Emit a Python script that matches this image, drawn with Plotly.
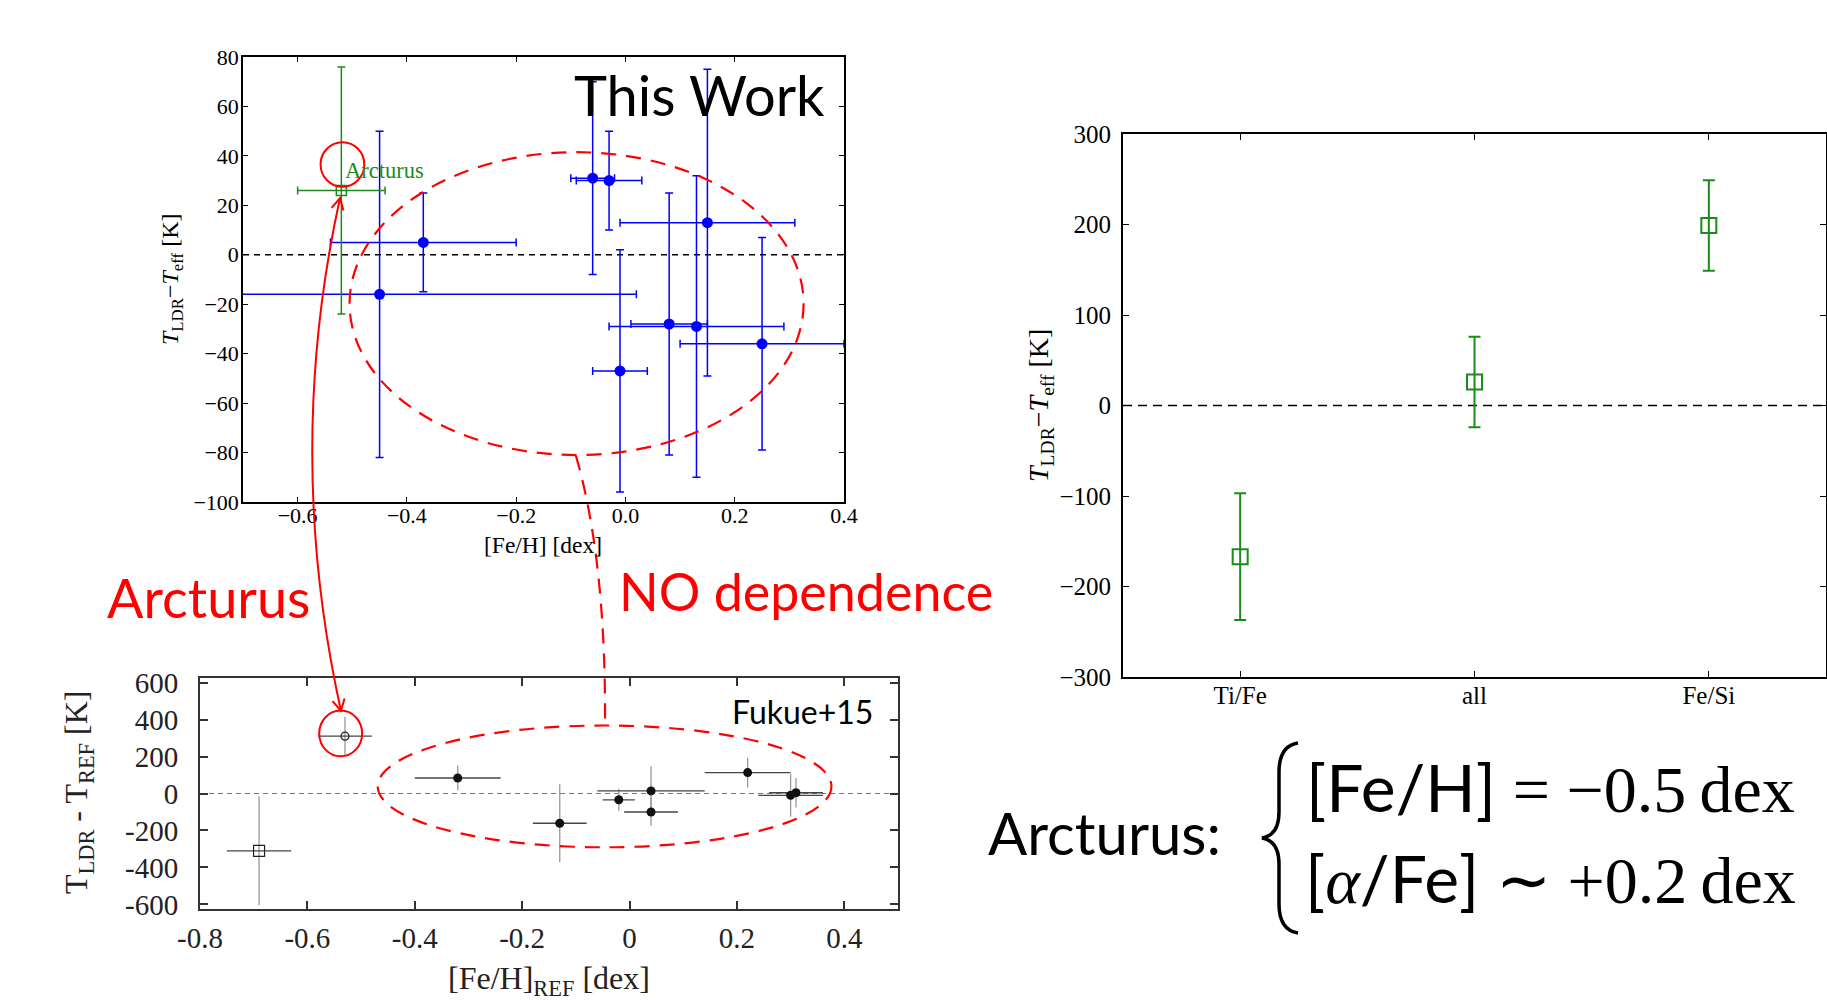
import numpy as np
import plotly.graph_objects as go

W, H = 1827, 1000

# ---------------- data: "This Work" panel (top-left) ----------------
tw_feh = [-0.45, -0.37, -0.06, -0.03, 0.15, -0.01, 0.08, 0.13, 0.25]
tw_feh_err = [0.47, 0.17, 0.04, 0.06, 0.16, 0.05, 0.07, 0.16, 0.15]
tw_dT = [-16, 5, 31, 30, 13, -47, -28, -29, -36]
tw_dT_err = [66, 20, 39, 20, 62, 49, 53, 61, 43]
arc_tw_feh = [-0.52]
arc_tw_feh_err = [0.08]
arc_tw_dT = [26]
arc_tw_dT_err = [50]
tw_xticks = [-0.6, -0.4, -0.2, 0.0, 0.2, 0.4]
tw_xticktext = ["\u22120.6", "\u22120.4", "\u22120.2", "0.0", "0.2", "0.4"]
tw_yticks = [-100, -80, -60, -40, -20, 0, 20, 40, 60, 80]

# ---------------- data: line-pair groups (right) ----------------
grp_labels = ["Ti/Fe", "all", "Fe/Si"]
grp_dT = [-167, 26, 199]
grp_dT_err = [70, 50, 50]
grp_yticks = [-300, -200, -100, 0, 100, 200, 300]

# ---------------- data: Fukue+15 panel (bottom-left) ----------------
fk_feh = [-0.32, -0.13, -0.02, 0.04, 0.04, 0.22, 0.30, 0.31]
fk_feh_err = [0.08, 0.05, 0.03, 0.10, 0.05, 0.08, 0.06, 0.05]
fk_dT = [84, -161, -34, 14, -100, 113, -10, 4]
fk_dT_err = [68, 211, 60, 134, 75, 80, 115, 80]
fk_arc_feh = [-0.53]
fk_arc_feh_err = [0.05]
fk_arc_dT = [310]
fk_arc_dT_err = [105]
fk_sq_feh = [-0.69]
fk_sq_feh_err = [0.06]
fk_sq_dT = [-310]
fk_sq_dT_err = [295]
fk_xticks = [-0.8, -0.6, -0.4, -0.2, 0.0, 0.2, 0.4]
fk_xticktext = ["-0.8", "-0.6", "-0.4", "-0.2", "0", "0.2", "0.4"]
fk_yticks = [-600, -400, -200, 0, 200, 400, 600]
fk_yticktext = ["-600", "-400", "-200", "0", "200", "400", "600"]

SERIF = "Liberation Serif, Times New Roman, serif"
SANS = "Lato, Noto Sans, sans-serif"
BLUE = "#0000ff"
GREEN = "#1a8c1a"
RED = "#ff0000"


def px(x, y):
    """page pixel -> paper coordinate"""
    return x / W, 1 - y / H


def dom_x(left, right):
    return [left / W, min(right / W, 1.0)]


def dom_y(top, bottom):
    return [1 - bottom / H, 1 - top / H]


fig = go.Figure()

# top-left panel
fig.add_trace(go.Scatter(
    x=tw_feh, y=tw_dT, mode="markers", xaxis="x", yaxis="y",
    marker=dict(color=BLUE, size=11, symbol="circle"),
    error_x=dict(type="data", array=tw_feh_err, color=BLUE, thickness=1.5, width=4),
    error_y=dict(type="data", array=tw_dT_err, color=BLUE, thickness=1.5, width=4),
    showlegend=False))
fig.add_trace(go.Scatter(
    x=arc_tw_feh, y=arc_tw_dT, mode="markers", xaxis="x", yaxis="y",
    marker=dict(color=GREEN, size=10, symbol="square-open", line=dict(width=1.5, color=GREEN)),
    error_x=dict(type="data", array=arc_tw_feh_err, color=GREEN, thickness=1.5, width=4),
    error_y=dict(type="data", array=arc_tw_dT_err, color=GREEN, thickness=1.5, width=4),
    showlegend=False))

# right panel
fig.add_trace(go.Scatter(
    x=grp_labels, y=grp_dT, mode="markers", xaxis="x3", yaxis="y3",
    marker=dict(color=GREEN, size=15, symbol="square-open", line=dict(width=2, color=GREEN)),
    error_y=dict(type="data", array=grp_dT_err, color=GREEN, thickness=2, width=6),
    showlegend=False))

# bottom-left panel
fig.add_trace(go.Scatter(
    x=fk_feh, y=fk_dT, mode="markers", xaxis="x2", yaxis="y2",
    marker=dict(color="#111111", size=9, symbol="circle"),
    error_x=dict(type="data", array=fk_feh_err, color="#444444", thickness=1.3, width=0),
    error_y=dict(type="data", array=fk_dT_err, color="#999999", thickness=1.3, width=0),
    showlegend=False))
fig.add_trace(go.Scatter(
    x=fk_arc_feh, y=fk_arc_dT, mode="markers", xaxis="x2", yaxis="y2",
    marker=dict(color="#222222", size=8, symbol="circle-open", line=dict(width=1.2, color="#222222")),
    error_x=dict(type="data", array=fk_arc_feh_err, color="#444444", thickness=1.3, width=0),
    error_y=dict(type="data", array=fk_arc_dT_err, color="#999999", thickness=1.3, width=0),
    showlegend=False))
fig.add_trace(go.Scatter(
    x=fk_sq_feh, y=fk_sq_dT, mode="markers", xaxis="x2", yaxis="y2",
    marker=dict(color="#222222", size=11, symbol="square-open", line=dict(width=1.2, color="#222222")),
    error_x=dict(type="data", array=fk_sq_feh_err, color="#444444", thickness=1.3, width=0),
    error_y=dict(type="data", array=fk_sq_dT_err, color="#999999", thickness=1.3, width=0),
    showlegend=False))

shapes = []
# zero lines
shapes.append(dict(type="line", xref="x domain", yref="y", x0=0, x1=1, y0=0, y1=0,
                   line=dict(color="black", width=1.5, dash="6px,5px"), layer="below"))
shapes.append(dict(type="line", xref="x3 domain", yref="y3", x0=0, x1=1, y0=0, y1=0,
                   line=dict(color="black", width=1.5, dash="9px,6px"), layer="below"))
shapes.append(dict(type="line", xref="x2 domain", yref="y2", x0=0, x1=1, y0=0, y1=0,
                   line=dict(color="#777777", width=1, dash="5px,4px"), layer="below"))

# annotation ellipses
shapes.append(dict(type="circle", xref="x", yref="y", x0=-0.505, x1=0.326, y0=-81, y1=41.5,
                   line=dict(color=RED, width=2.2, dash="15px,10px")))
shapes.append(dict(type="circle", xref="x", yref="y", x0=-0.558, x1=-0.478, y0=27.5, y1=45.5,
                   line=dict(color=RED, width=2)))
shapes.append(dict(type="circle", xref="x2", yref="y2", x0=-0.469, x1=0.376, y0=-291, y1=368,
                   line=dict(color=RED, width=2.2, dash="15px,10px")))
shapes.append(dict(type="circle", xref="x2", yref="y2", x0=-0.578, x1=-0.498, y0=201, y1=449,
                   line=dict(color=RED, width=2)))


def pt(p):
    X, Y = px(*p)
    return f"{X:.6f},{Y:.6f}"


# curved double-headed arrow linking Arcturus in both panels (page pixel geometry)
P0 = np.array([340.0, 198.0])
C = np.array([284.0, 453.0])
P2 = np.array([341.0, 711.0])
shapes.append(dict(type="path", xref="paper", yref="paper",
                   path=f"M{pt(P0)} Q{pt(C)} {pt(P2)}",
                   line=dict(color=RED, width=2)))


def arrowhead(tip, frm, L=13.0, ang=np.radians(28)):
    d = (tip - frm) / np.linalg.norm(tip - frm)

    def rot(v, a):
        return np.array([v[0] * np.cos(a) - v[1] * np.sin(a), v[0] * np.sin(a) + v[1] * np.cos(a)])
    w1 = tip - L * rot(d, ang)
    w2 = tip - L * rot(d, -ang)
    return f"M{pt(w1)} L{pt(tip)} L{pt(w2)}"


shapes.append(dict(type="path", xref="paper", yref="paper", path=arrowhead(P0, C),
                   line=dict(color=RED, width=2)))
shapes.append(dict(type="path", xref="paper", yref="paper", path=arrowhead(P2, C),
                   line=dict(color=RED, width=2)))

# dashed connector between the two "no dependence" ellipses
Q0 = (576.0, 456.0)
QC = (606.0, 560.0)
Q2 = (605.0, 724.0)
shapes.append(dict(type="path", xref="paper", yref="paper",
                   path=f"M{pt(Q0)} Q{pt(QC)} {pt(Q2)}",
                   line=dict(color=RED, width=2.2, dash="15px,10px")))

# curly brace for the Arcturus abundances
bp = [(1298, 743), (1279, 746), (1279, 772), (1279, 812), (1279, 835), (1262, 838),
      (1279, 841), (1279, 864), (1279, 904), (1279, 930), (1298, 933)]
bpath = (f"M{pt(bp[0])} Q{pt(bp[1])} {pt(bp[2])} L{pt(bp[3])} Q{pt(bp[4])} {pt(bp[5])} "
         f"Q{pt(bp[6])} {pt(bp[7])} L{pt(bp[8])} Q{pt(bp[9])} {pt(bp[10])}")
shapes.append(dict(type="path", xref="paper", yref="paper", path=bpath,
                   line=dict(color="black", width=3.5)))

annotations = []


def ann_px(text, x, y, size, color="black", family=SANS, xanchor="center", angle=0):
    X, Y = px(x, y)
    annotations.append(dict(text=text, x=X, y=Y, xref="paper", yref="paper", showarrow=False,
                            xanchor=xanchor, yanchor="middle", textangle=angle,
                            font=dict(size=size, color=color, family=family)))


# free text
ann_px("This Work", 699, 95, 56)
ann_px("Arcturus", 208, 597, 54, color=RED)
ann_px("NO dependence", 806, 591, 52, color=RED)
ann_px("Fukue+15", 802, 711, 32)
ann_px("Arcturus:", 1104, 832, 58)
sp = f"<span style=\"font-family:{SERIF}\">"
ann_px("[Fe/H] " + sp + "= \u22120.5\u2009dex</span>", 1550, 786, 66)
ann_px("[" + sp + "<i>\u03b1</i></span>/Fe] " + sp + "\u223c +0.2\u2009dex</span>", 1550, 877, 66)

annotations.append(dict(text="Arcturus", x=-0.5165, y=34, xref="x", yref="y", showarrow=False,
                        xanchor="left", yanchor="middle",
                        font=dict(size=22.5, color=GREEN, family=SERIF)))

# axis titles (placed explicitly)
TTL = "<i>T</i><sub>LDR</sub>\u2212<i>T</i><sub>eff</sub> [K]"
ann_px(TTL, 172, 280, 24, family=SERIF, angle=-90)
ann_px("[Fe/H] [dex]", 543, 545, 23.5, family=SERIF)
ann_px(TTL, 1040, 406, 28, family=SERIF, angle=-90)
ann_px("T<sub>LDR</sub> - T<sub>REF</sub> [K]", 78, 793, 32, color="#222222", family=SERIF, angle=-90)
ann_px("[Fe/H]<sub>REF</sub> [dex]", 549, 980, 32, color="#222222", family=SERIF)

axis_common = dict(showline=True, mirror="allticks", ticks="inside", showgrid=False,
                   zeroline=False, automargin=False)

fig.update_layout(
    width=W, height=H, margin=dict(l=0, r=0, t=0, b=0, pad=0, autoexpand=False),
    paper_bgcolor="white", plot_bgcolor="white",
    xaxis=dict(domain=dom_x(243, 844), anchor="y", range=[-0.7, 0.4],
               tickvals=tw_xticks, ticktext=tw_xticktext, linecolor="black", linewidth=1.5,
               ticklen=5, tickwidth=1, tickcolor="black", ticklabelstandoff=-7,
               tickfont=dict(family=SERIF, size=22, color="black"), **axis_common),
    yaxis=dict(domain=dom_y(57, 502), anchor="x", range=[-100, 80],
               tickvals=tw_yticks, linecolor="black", linewidth=1.5,
               ticklen=5, tickwidth=1, tickcolor="black", ticklabelstandoff=-2,
               tickfont=dict(family=SERIF, size=22, color="black"), **axis_common),
    xaxis2=dict(domain=dom_x(200, 898), anchor="y2", range=[-0.8, 0.5],
                tickvals=fk_xticks, ticktext=fk_xticktext, linecolor="#333333", linewidth=2,
                ticklen=8, tickwidth=2, tickcolor="#333333", ticklabelstandoff=2,
                tickfont=dict(family=SERIF, size=29, color="#222222"), **axis_common),
    yaxis2=dict(domain=dom_y(678, 909), anchor="x2", range=[-625, 625],
                tickvals=fk_yticks, ticktext=fk_yticktext, linecolor="#333333", linewidth=2,
                ticklen=8, tickwidth=2, tickcolor="#333333", ticklabelstandoff=14,
                tickfont=dict(family=SERIF, size=29, color="#222222"), **axis_common),
    xaxis3=dict(domain=dom_x(1123, 1826), anchor="y3", range=[-0.5, 2.5], type="category",
                linecolor="black", linewidth=1.8,
                ticklen=6, tickwidth=1, tickcolor="black", ticklabelstandoff=-5,
                tickfont=dict(family=SERIF, size=25, color="black"), **axis_common),
    yaxis3=dict(domain=dom_y(134, 677), anchor="x3", range=[-300, 300],
                tickvals=grp_yticks, linecolor="black", linewidth=1.8,
                ticklen=6, tickwidth=1, tickcolor="black", ticklabelstandoff=5,
                tickfont=dict(family=SERIF, size=25, color="black"), **axis_common),
    shapes=shapes,
    annotations=annotations,
)

fig.write_html("out.html", config={"displayModeBar": False},
               post_script="document.body.style.margin='0';")
